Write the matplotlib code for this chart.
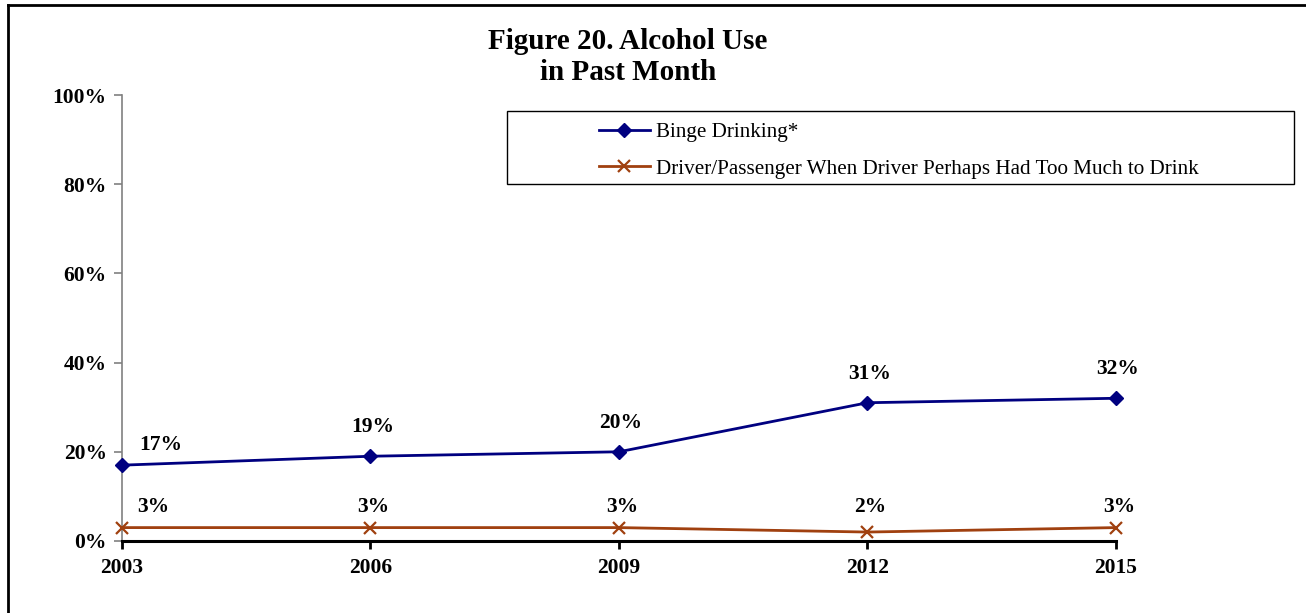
import numpy as np
import matplotlib.pyplot as plt
from matplotlib.lines import Line2D
from matplotlib.patches import Rectangle

plt.rcParams['font.family'] = ['Liberation Serif', 'DejaVu Serif']

years = ['2003', '2006', '2009', '2012', '2015']
binge = [17, 19, 20, 31, 32]
driver = [3, 3, 3, 2, 3]
binge_labels = ['17%', '19%', '20%', '31%', '32%']
driver_labels = ['3%', '3%', '3%', '2%', '3%']

W, H = 1306, 613
fig = plt.figure(figsize=(W / 100, H / 100), dpi=100)
ax = fig.add_axes([0.0934, 0.1175, 0.7611, 0.7275])

x = np.arange(len(years))
ax.plot(x, binge, color='#000080', lw=2, marker='D', ms=7, label='Binge Drinking*', clip_on=False, zorder=3)
ax.plot(x, driver, color='#A0400F', lw=2, marker='x', ms=8, mew=1.6,
        label='Driver/Passenger When Driver Perhaps Had Too Much to Drink', clip_on=False, zorder=3)

# data labels
for i in range(len(x)):
    dx = 39 if i == 0 else 2
    dy = 20 if i == 0 else 29
    ax.annotate(binge_labels[i], (x[i], binge[i]), xytext=(dx, dy), textcoords='offset pixels',
                ha='center', va='center', fontsize=15.5, fontweight='bold')
    dx = 31 if i == 0 else 3
    dy = 25 if i == 3 else 21
    ax.annotate(driver_labels[i], (x[i], driver[i]), xytext=(dx, dy), textcoords='offset pixels',
                ha='center', va='center', fontsize=15.5, fontweight='bold')

ax.set_xlim(0, 4)
ax.set_ylim(0, 100)
ax.set_xticks(x)
ax.set_xticklabels(years, fontsize=15.5, fontweight='bold')
ax.set_yticks([0, 20, 40, 60, 80, 100])
ax.set_yticklabels(['0%', '20%', '40%', '60%', '80%', '100%'], fontsize=15.5, fontweight='bold')

for s in ['top', 'right']:
    ax.spines[s].set_visible(False)
ax.spines['left'].set_color('#808080')
ax.spines['left'].set_linewidth(1.2)
ax.spines['bottom'].set_color('black')
ax.spines['bottom'].set_linewidth(2.2)
ax.tick_params(axis='y', length=6, width=1.2, color='#808080', pad=5)
ax.tick_params(axis='x', length=6, width=2, color='black', pad=6)

fig.text(0.481, 1 - 57 / H, 'Figure 20. Alcohol Use\nin Past Month', ha='center', va='center',
         fontsize=21, fontweight='bold', linespacing=1.22)

# legend box drawn separately, entries sit right of its left edge
fig.add_artist(Rectangle((507 / W, 1 - 184 / H), (1294 - 507) / W, 73 / H, transform=fig.transFigure,
                         fill=False, edgecolor='black', lw=1))
leg = fig.legend(loc='center left', bbox_to_anchor=(599 / W, 1 - 150.5 / H), fontsize=15.2,
                 frameon=False, handlelength=2.4, borderpad=0, labelspacing=0.8,
                 handletextpad=0.3, borderaxespad=0)

# figure border (top and left edges visible)
fig.add_artist(Line2D([8 / W, 1.0], [1 - 5 / H, 1 - 5 / H], color='black', lw=2, transform=fig.transFigure))
fig.add_artist(Line2D([8 / W, 8 / W], [0, 1 - 5 / H], color='black', lw=2, transform=fig.transFigure))

fig.savefig('out.png', dpi=100)
